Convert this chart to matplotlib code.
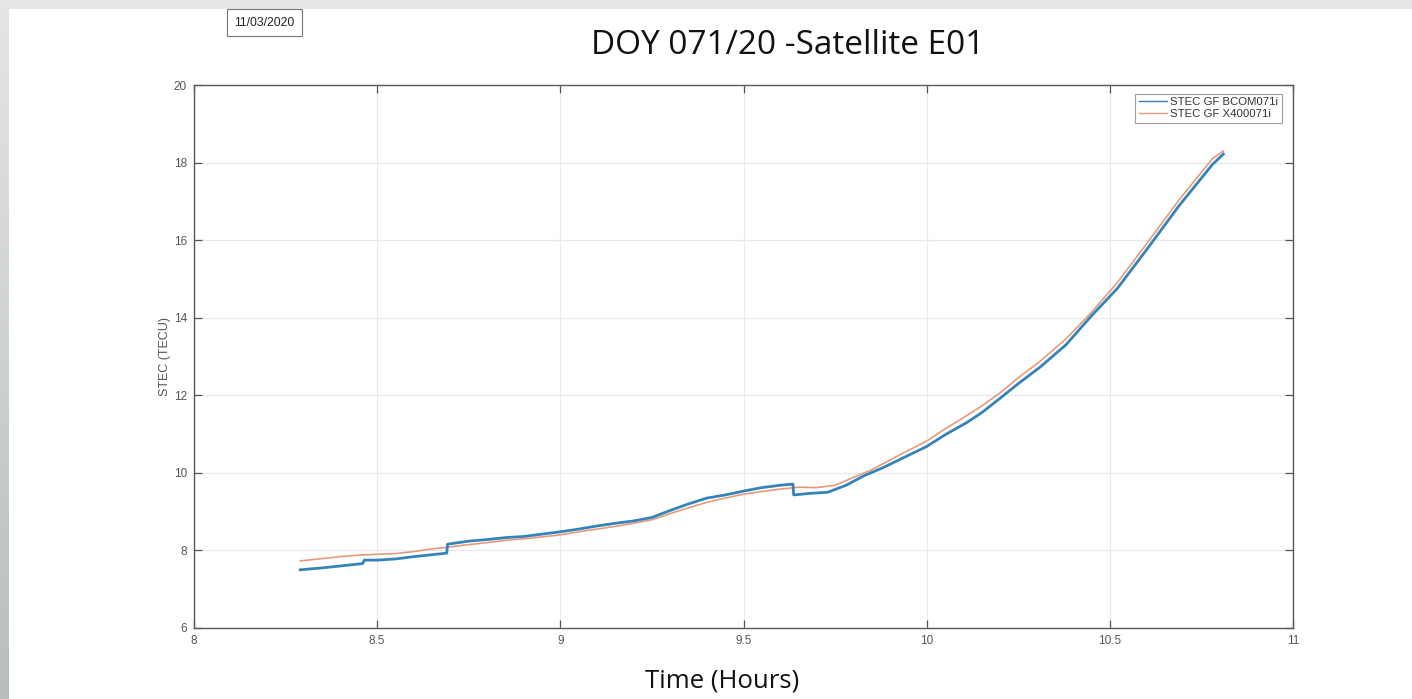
import numpy as np
import matplotlib
matplotlib.use("Agg")
import matplotlib.pyplot as plt
from matplotlib.patches import Rectangle

# ---- data ----
blue_x = [8.29, 8.35, 8.40, 8.46, 8.465, 8.50, 8.55, 8.60, 8.65, 8.69, 8.692, 8.75, 8.80,
          8.85, 8.90, 8.95, 9.00, 9.05, 9.10, 9.15, 9.20, 9.25, 9.30, 9.35, 9.40, 9.45,
          9.50, 9.55, 9.60, 9.635, 9.637, 9.68, 9.73, 9.78, 9.83, 9.88, 9.93, 10.00,
          10.05, 10.11, 10.15, 10.20, 10.25, 10.31, 10.38, 10.45, 10.52, 10.60, 10.69,
          10.78, 10.81]
blue_y = [7.50, 7.55, 7.60, 7.66, 7.75, 7.75, 7.78, 7.84, 7.89, 7.93, 8.16, 8.24, 8.28,
          8.33, 8.36, 8.42, 8.48, 8.55, 8.63, 8.70, 8.76, 8.85, 9.03, 9.20, 9.35, 9.43,
          9.53, 9.62, 9.68, 9.71, 9.43, 9.47, 9.50, 9.68, 9.93, 10.13, 10.36, 10.68,
          10.98, 11.30, 11.55, 11.92, 12.30, 12.73, 13.30, 14.05, 14.75, 15.75, 16.90,
          17.95, 18.22]

orange_x = [8.29, 8.35, 8.40, 8.45, 8.50, 8.55, 8.60, 8.65, 8.70, 8.75, 8.80, 8.85, 8.90,
            8.95, 9.00, 9.05, 9.10, 9.15, 9.20, 9.25, 9.30, 9.35, 9.40, 9.45, 9.50, 9.55,
            9.60, 9.65, 9.70, 9.75, 9.80, 9.85, 9.93, 10.00, 10.05, 10.11, 10.15, 10.20,
            10.25, 10.31, 10.38, 10.45, 10.52, 10.60, 10.69, 10.78, 10.81]
orange_y = [7.73, 7.79, 7.84, 7.88, 7.90, 7.92, 7.97, 8.04, 8.09, 8.15, 8.20, 8.26, 8.30,
            8.35, 8.40, 8.48, 8.55, 8.62, 8.70, 8.79, 8.95, 9.10, 9.24, 9.35, 9.45, 9.52,
            9.58, 9.63, 9.62, 9.68, 9.88, 10.08, 10.48, 10.82, 11.13, 11.48, 11.72, 12.06,
            12.45, 12.88, 13.45, 14.14, 14.90, 15.90, 17.05, 18.10, 18.30]

series_labels = ["STEC GF BCOM071i", "STEC GF X400071i"]
x_ticks = [8, 8.5, 9, 9.5, 10, 10.5, 11]
x_tick_labels = ["8", "8.5", "9", "9.5", "10", "10.5", "11"]
y_ticks = [6, 8, 10, 12, 14, 16, 18, 20]

W, H = 1412, 699
fig = plt.figure(figsize=(W / 100, H / 100), dpi=100)
fig.patch.set_facecolor("white")

# gray slide border (top strip and left gradient strip)
fig.patches.append(Rectangle((0, 1 - 9 / H), 1, 9 / H, transform=fig.transFigure,
                             facecolor="#e6e8e8", edgecolor="none", zorder=0))
gax = fig.add_axes([0, 0, 9 / W, 1])
grad = np.linspace(0, 1, 256).reshape(-1, 1)
gax.imshow(grad, aspect="auto", cmap=matplotlib.colors.LinearSegmentedColormap.from_list(
    "g", ["#e4e6e6", "#b9bdbe"]), extent=[0, 1, 0, 1], origin="upper")
gax.axis("off")

ax = fig.add_axes([194 / W, 1 - 628 / H, (1293 - 194) / W, (628 - 85) / H])
ax.plot(blue_x, blue_y, color="#3584b8", lw=2.0, label=series_labels[0], zorder=3)
ax.plot(orange_x, orange_y, color="#e69a7c", lw=1.2, label=series_labels[1], zorder=2)

ax.set_xlim(8, 11)
ax.set_ylim(6, 20)
ax.set_xticks(x_ticks)
ax.set_xticklabels(x_tick_labels)
ax.set_yticks(y_ticks)
ax.grid(True, color="#e9e9e9", lw=0.9)
ax.set_axisbelow(True)
ax.tick_params(direction="in", length=6, width=0.9, color="#555555",
               labelsize=8.5, labelcolor="#555555", top=True, right=True, pad=5)
for s in ax.spines.values():
    s.set_color("#5a5a5a")
    s.set_linewidth(1.0)
ax.set_ylabel("STEC (TECU)", fontsize=9, color="#555555", labelpad=2,
              family="Liberation Sans")
for lab in ax.get_xticklabels() + ax.get_yticklabels():
    lab.set_family("Liberation Sans")

leg = ax.legend(loc="upper right", handlelength=2.5, handletextpad=0.3,
                borderpad=0.3, labelspacing=0.15, frameon=True, fancybox=False,
                bbox_to_anchor=(1 - 11 / 1099, 1 - 9 / 543), borderaxespad=0,
                prop={"family": "Liberation Sans", "size": 8.2})
leg.get_frame().set_edgecolor("#888888")
leg.get_frame().set_linewidth(0.8)
for h in leg.get_lines():
    h.set_linewidth(1.0)
for t in leg.get_texts():
    t.set_color("#333333")

# texts
fig.text(788 / W, 1 - 46 / H, "DOY 071/20 -Satellite E01", fontsize=24,
         ha="center", va="center", family="Open Sans", color="#111111")
fig.text(722 / W, 1 - 681 / H, "Time (Hours)", fontsize=18.5,
         ha="center", va="center", family="Open Sans", color="#111111")
fig.text(264.5 / W, 1 - 22.5 / H, "11/03/2020", fontsize=8.8, ha="center", va="center",
         family="Liberation Sans", color="#222222",
         bbox=dict(boxstyle="square,pad=0.6", facecolor="white", edgecolor="#777777",
                   linewidth=0.8))

fig.savefig("out.png", dpi=100)
